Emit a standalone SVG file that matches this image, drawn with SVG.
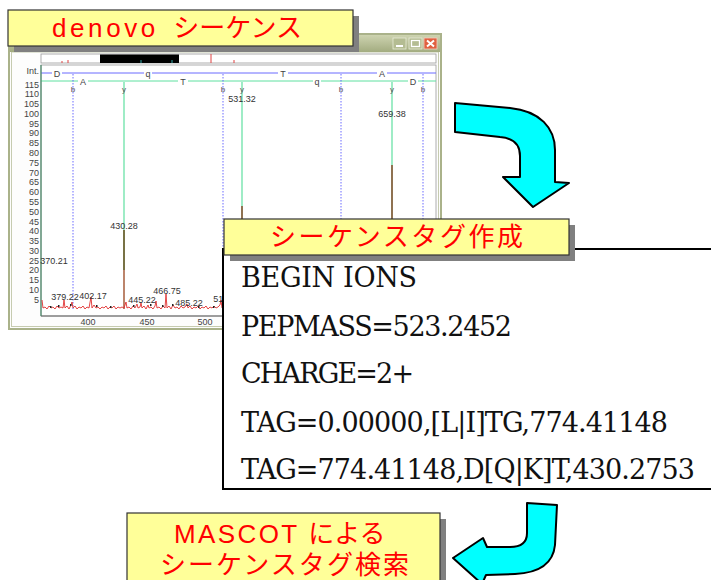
<svg xmlns="http://www.w3.org/2000/svg" width="711" height="580" viewBox="0 0 711 580">
<style>
.ax{font-family:"Liberation Sans",Arial,sans-serif;font-size:9px;fill:#444}
.ion{font-family:"Liberation Sans",Arial,sans-serif;font-size:8px;fill:#555}
.pk{font-family:"Liberation Sans",Arial,sans-serif;font-size:9px;fill:#333}
.seq{font-family:"Liberation Sans",Arial,sans-serif;font-size:9px;fill:#444;text-anchor:middle}
.yb{fill:#ffff99;stroke:#333;stroke-width:1.2}
.sh{fill:#808080}
.jp{font-family:"Liberation Sans","Noto Sans CJK JP",sans-serif;font-size:26px;fill:#ff0000}
.mono{font-family:"DejaVu Serif","Liberation Serif",serif;font-size:27px;fill:#111}
.bl{stroke:#6a6aff;stroke-width:1;stroke-dasharray:1.5,1.5;fill:none}
.gl{stroke:#5ee0a0;stroke-width:1.2;fill:none}
.arrow{fill:#00ffff;stroke:#000;stroke-width:2;stroke-linejoin:round}
</style>
<defs>
<linearGradient id="tb" x1="0" y1="0" x2="0" y2="1">
<stop offset="0" stop-color="#cdd3b0"/>
<stop offset="1" stop-color="#a3ac80"/>
</linearGradient>
</defs>
<rect width="711" height="580" fill="#fff"/>

<g id="spectrum-window">
<rect x="9" y="34" width="432" height="295" fill="#fdfdfd" stroke="#aab28a" stroke-width="2"/>
<rect x="11.5" y="52" width="427" height="274.5" fill="none" stroke="#c6cbb0" stroke-width="1"/>
<rect x="10" y="35" width="430" height="17" fill="url(#tb)"/>
<rect x="393" y="38" width="13" height="11" fill="#b4bc92" stroke="#e8ecd8" stroke-width="0.8"/>
<rect x="396" y="45" width="7" height="2" fill="#fff"/>
<rect x="409" y="38" width="13" height="11" fill="#b4bc92" stroke="#e8ecd8" stroke-width="0.8"/>
<rect x="411.5" y="40.5" width="8" height="6" fill="none" stroke="#fff" stroke-width="1.3"/>
<rect x="424" y="38" width="13" height="11" fill="#e06040" stroke="#f4d0c0" stroke-width="0.8"/>
<path d="M427,40.5 L434,46.5 M434,40.5 L427,46.5" stroke="#fff" stroke-width="2"/>
<rect x="41" y="54" width="395" height="9" fill="#fff" stroke="#999" stroke-width="0.8"/>
<rect x="100" y="54.5" width="79" height="8.5" fill="#000"/>
<line x1="141" y1="60" x2="141" y2="63" stroke="#3aa" stroke-width="1"/>
<line x1="172" y1="60" x2="172" y2="63" stroke="#3aa" stroke-width="1"/>
<line x1="211" y1="54" x2="211" y2="63" stroke="#e04040" stroke-width="1"/>
<line x1="234" y1="60" x2="234" y2="63" stroke="#e04040" stroke-width="1"/>
<line x1="62" y1="61" x2="62" y2="63" stroke="#e04040" stroke-width="1"/>
<line x1="68" y1="60" x2="68" y2="63" stroke="#e04040" stroke-width="1"/>
<rect x="41" y="65" width="395" height="251" fill="#fff" stroke="#999" stroke-width="0.8"/>
<text class="ax" x="39" y="74" text-anchor="end">Int.</text>
<g text-anchor="end">
<text class="ax" x="39" y="87.5">115</text>
<text class="ax" x="39" y="97.3">110</text>
<text class="ax" x="39" y="107.1">105</text>
<text class="ax" x="39" y="116.9">100</text>
<text class="ax" x="39" y="126.6">95</text>
<text class="ax" x="39" y="136.4">90</text>
<text class="ax" x="39" y="146.2">85</text>
<text class="ax" x="39" y="156">80</text>
<text class="ax" x="39" y="165.8">75</text>
<text class="ax" x="39" y="175.5">70</text>
<text class="ax" x="39" y="185.3">65</text>
<text class="ax" x="39" y="195.1">60</text>
<text class="ax" x="39" y="204.9">55</text>
<text class="ax" x="39" y="214.7">50</text>
<text class="ax" x="39" y="224.5">45</text>
<text class="ax" x="39" y="234.2">40</text>
<text class="ax" x="39" y="244">35</text>
<text class="ax" x="39" y="253.8">30</text>
<text class="ax" x="39" y="263.6">25</text>
<text class="ax" x="39" y="273.4">20</text>
<text class="ax" x="39" y="283.2">15</text>
<text class="ax" x="39" y="292.9">10</text>
<text class="ax" x="39" y="302.7">5</text>
</g>
<text class="ax" x="88" y="325" text-anchor="middle">400</text>
<text class="ax" x="147" y="325" text-anchor="middle">450</text>
<text class="ax" x="205" y="325" text-anchor="middle">500</text>
<line x1="41" y1="316" x2="436" y2="316" stroke="#666" stroke-width="1"/>
<line x1="41" y1="73" x2="436" y2="73" stroke="#6a6aff" stroke-width="1"/>
<line x1="41" y1="81" x2="436" y2="81" stroke="#5ee0a0" stroke-width="1"/>
<g fill="#fff">
<rect x="52" y="68" width="10" height="9"/><rect x="144" y="68" width="8" height="9"/><rect x="278" y="68" width="10" height="9"/><rect x="377" y="68" width="10" height="9"/>
<rect x="78" y="76" width="10" height="9"/><rect x="178" y="76" width="10" height="9"/><rect x="313" y="76" width="8" height="9"/><rect x="408" y="76" width="10" height="9"/>
</g>
<text class="seq" x="57" y="76.5">D</text>
<text class="seq" x="148" y="76.5">q</text>
<text class="seq" x="283" y="76.5">T</text>
<text class="seq" x="382" y="76.5">A</text>
<text class="seq" x="83" y="84.5">A</text>
<text class="seq" x="183" y="84.5">T</text>
<text class="seq" x="317" y="84.5">q</text>
<text class="seq" x="413" y="84.5">D</text>
<line class="bl" x1="73" y1="74" x2="73" y2="309"/>
<line class="bl" x1="223" y1="74" x2="223" y2="309"/>
<line class="bl" x1="341" y1="74" x2="341" y2="309"/>
<line class="bl" x1="423" y1="74" x2="423" y2="309"/>
<line class="gl" x1="124" y1="82" x2="124" y2="309"/>
<line class="gl" x1="242" y1="82" x2="242" y2="309"/>
<line class="gl" x1="392" y1="82" x2="392" y2="309"/>
<line x1="41" y1="65" x2="41" y2="316" stroke="#4a8a6a" stroke-width="1.2"/>
<g text-anchor="middle">
<text class="ion" x="73" y="92">b</text>
<text class="ion" x="223" y="92">b</text>
<text class="ion" x="341" y="92">b</text>
<text class="ion" x="423" y="92">b</text>
<text class="ion" x="124" y="92">y</text>
<text class="ion" x="242" y="92">y</text>
<text class="ion" x="392" y="92">y</text>
</g>
<line x1="124" y1="230" x2="124" y2="270" stroke="#6b4a1a" stroke-width="1.5"/>
<line x1="124" y1="270" x2="124" y2="309" stroke="#d04030" stroke-width="1.2"/>
<line x1="242" y1="206" x2="242" y2="309" stroke="#8a4a2a" stroke-width="1.5"/>
<line x1="392" y1="165" x2="392" y2="309" stroke="#8a4a2a" stroke-width="1.5"/>
<polyline fill="none" stroke="#e03030" stroke-width="0.9" points="42,300 43,308 45,307 47,309 49,306 51,308 53,307 55,309 57,306 59,308 61,307 63,308 64,300 65,308 67,306 69,309 71,305 72,302 73,308 75,306 77,309 79,307 81,308 83,306 85,309 87,307 89,308 91,297 92,308 94,305 96,308 98,307 100,309 102,307 104,308 106,306 108,309 110,307 112,308 114,306 116,309 118,307 120,308 122,307 124,308 126,302 127,308 129,307 131,309 133,306 135,308 137,304 138,308 140,307 141,303 142,308 144,306 146,309 148,305 149,308 151,307 153,309 155,306 156,301 157,308 159,307 161,309 163,306 165,308 166,294 167,308 169,306 171,309 173,305 175,308 177,307 179,309 181,306 183,308 185,307 187,304 188,308 190,306 192,309 194,307 196,308 198,306 200,309 202,307 204,308 206,306 208,309 210,307 212,308 214,306 216,308 218,307 220,305 221,300 222,308"/>
<g fill="#222">
<rect x="50" y="306" width="1.5" height="2"/><rect x="58" y="305" width="1.5" height="2"/><rect x="70" y="304" width="1.5" height="2"/><rect x="96" y="305" width="1.5" height="2"/><rect x="110" y="306" width="1.5" height="2"/><rect x="133" y="305" width="1.5" height="2"/><rect x="150" y="304" width="1.5" height="2"/><rect x="162" y="305" width="1.5" height="2"/><rect x="172" y="304" width="1.5" height="2"/><rect x="198" y="306" width="1.5" height="2"/><rect x="213" y="306" width="1.5" height="2"/>
</g>
<g text-anchor="middle">
<text class="pk" x="54" y="264">370.21</text>
<text class="pk" x="124" y="229">430.28</text>
<text class="pk" x="242" y="102">531.32</text>
<text class="pk" x="392" y="117">659.38</text>
<text class="pk" x="65" y="300">379.22</text>
<text class="pk" x="93" y="299">402.17</text>
<text class="pk" x="142" y="303">445.22</text>
<text class="pk" x="167" y="294">466.75</text>
<text class="pk" x="189" y="306">485.22</text>
<text class="pk" x="222" y="302">514.</text>
</g>
</g>

<g id="tag-text">
<rect x="223" y="249" width="500" height="240" fill="#fff" stroke="#000" stroke-width="2"/>
<text class="mono" x="241" y="287" textLength="176" lengthAdjust="spacing">BEGIN IONS</text>
<text class="mono" x="241" y="336" textLength="271" lengthAdjust="spacing">PEPMASS=523.2452</text>
<text class="mono" x="241" y="383" textLength="173" lengthAdjust="spacing">CHARGE=2+</text>
<text class="mono" x="241" y="431.5" textLength="427" lengthAdjust="spacing">TAG=0.00000,[L|I]TG,774.41148</text>
<text class="mono" x="241" y="479" textLength="454" lengthAdjust="spacing">TAG=774.41148,D[Q|K]T,430.2753</text>
</g>

<g id="box-tag">
<rect class="sh" x="230" y="225" width="345" height="36"/>
<rect class="yb" x="224" y="219" width="345" height="36"/>
<text class="jp" x="270" y="246" textLength="253" lengthAdjust="spacing">シーケンスタグ作成</text>
</g>

<g id="box-denovo">
<rect class="sh" x="14" y="16" width="345" height="36"/>
<rect class="yb" x="8" y="10" width="345" height="36"/>
<text class="jp" y="37"><tspan x="52" letter-spacing="3.6">denovo</tspan><tspan x="166"> シーケンス</tspan></text>
</g>

<g id="box-mascot">
<rect class="sh" x="133" y="519" width="313" height="70"/>
<rect class="yb" x="127" y="513" width="313" height="75"/>
<text class="jp" y="543"><tspan x="174" letter-spacing="2.4">MASCOT</tspan><tspan x="301"> による</tspan></text>
<text class="jp" x="160" y="574" textLength="249" lengthAdjust="spacing">シーケンスタグ検索</text>
</g>

<g id="connectors">
<path class="arrow" d="M455,103 L510,108 C540,111 555,128 555,150 L555,182 L569,183 L533,207 L503,177 L520,177 L520,156 C520,144 513,138 500,137 L455,132 Z"/>
<path class="arrow" d="M527,503 L557,505 L555,545 C553,565 537,573 515,574 L486,575 L482,584 L453,558 L483,538 L487,547 L510,547 C520,547 527,543 527,533 Z"/>
</g>
</svg>
